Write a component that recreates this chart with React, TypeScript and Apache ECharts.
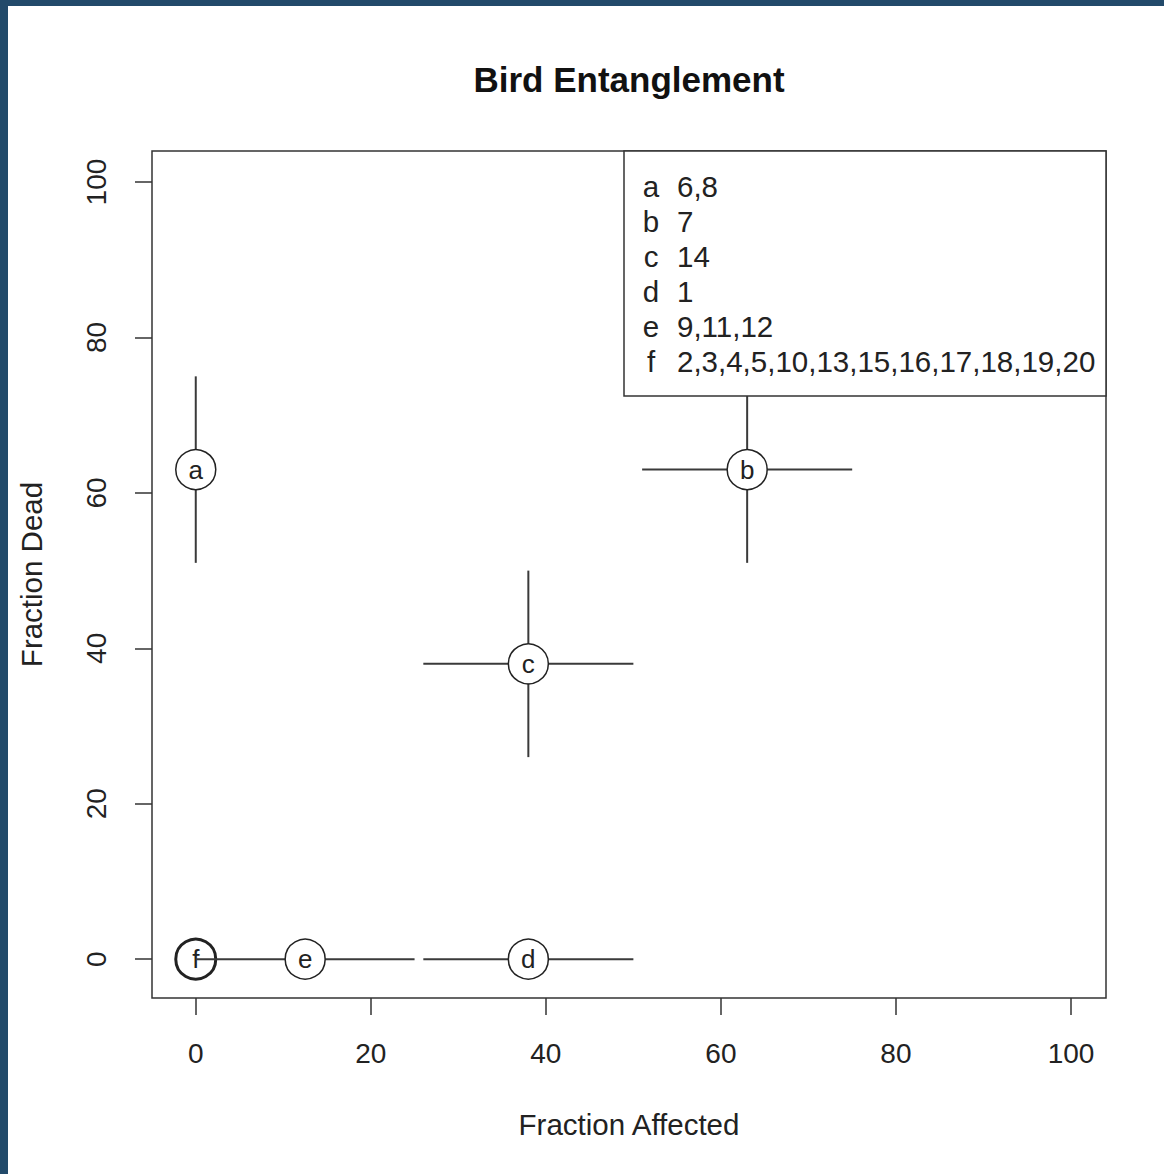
import React, { useEffect, useRef } from "react";
import * as echarts from "echarts";

// ---- data ----
const groupLabels = ["a", "b", "c", "d", "e", "f"];
const groupBirds = ["6,8", "7", "14", "1", "9,11,12", "2,3,4,5,10,13,15,16,17,18,19,20"];
const fracAffected = [0, 63, 38, 38, 12.5, 0];
const fracAffectedLow = [0, 51, 26, 26, 0, 0];
const fracAffectedHigh = [0, 75, 50, 50, 25, 0];
const fracDead = [63, 63, 38, 0, 0, 0];
const fracDeadLow = [51, 51, 26, 0, 0, 0];
const fracDeadHigh = [75, 75, 50, 0, 0, 0];
const tickValues = [0, 20, 40, 60, 80, 100];

const FONT = "Liberation Sans, Arial, Helvetica, sans-serif";

export default function App() {
  const ref = useRef<HTMLDivElement>(null);
  useEffect(() => {
    if (!ref.current) return;
    const chart = echarts.init(ref.current, undefined, { renderer: "svg" });

    // draw order: f first so later groups' bars overlay it
    const order = groupLabels.map((_, i) => i).reverse();
    const data = order.map((i) => [
      fracAffected[i],
      fracDead[i],
      fracAffectedLow[i],
      fracAffectedHigh[i],
      fracDeadLow[i],
      fracDeadHigh[i],
      i,
    ]);

    const legendX = 624;
    const legendY = 151;
    const legendW = 482;
    const legendH = 245;
    const rowStart = 186;
    const rowStep = 35;

    const legendEls: any[] = [
      {
        type: "rect",
        z: 100,
        shape: { x: legendX, y: legendY, width: legendW, height: legendH },
        style: { fill: "#ffffff", stroke: "#333333", lineWidth: 1.5 },
      },
    ];
    groupLabels.forEach((lab, i) => {
      legendEls.push({
        type: "text",
        z: 101,
        x: 651,
        y: rowStart + i * rowStep,
        style: {
          text: lab,
          font: `29.5px ${FONT}`,
          fill: "#222222",
          textAlign: "center",
          textVerticalAlign: "middle",
        },
      });
      legendEls.push({
        type: "text",
        z: 101,
        x: 677,
        y: rowStart + i * rowStep,
        style: {
          text: groupBirds[i],
          font: `29.5px ${FONT}`,
          fill: "#222222",
          textAlign: "left",
          textVerticalAlign: "middle",
        },
      });
    });

    const option: any = {
      animation: false,
      backgroundColor: "#ffffff",
      grid: {
        left: 152,
        top: 151,
        right: 58,
        bottom: 176,
        show: true,
        borderColor: "#333333",
        borderWidth: 1.5,
        backgroundColor: "transparent",
      },
      xAxis: {
        type: "value",
        min: -5,
        max: 104,
        name: "Fraction Affected",
        nameLocation: "middle",
        nameGap: 110,
        nameTextStyle: { fontFamily: FONT, fontSize: 29.5, color: "#222222", lineHeight: 32 },
        axisLine: { show: false, onZero: false },
        splitLine: { show: false },
        axisTick: {
          show: true,
          length: 17,
          customValues: tickValues,
          lineStyle: { color: "#333333", width: 1.5 },
        },
        axisLabel: {
          customValues: tickValues,
          margin: 39,
          fontFamily: FONT,
          fontSize: 28,
          lineHeight: 32,
          color: "#222222",
        },
      },
      yAxis: {
        type: "value",
        min: -5,
        max: 104,
        name: "Fraction Dead",
        nameLocation: "middle",
        nameGap: 105,
        nameTextStyle: { fontFamily: FONT, fontSize: 29.5, color: "#222222", lineHeight: 32 },
        axisLine: { show: false, onZero: false },
        splitLine: { show: false },
        axisTick: {
          show: true,
          length: 17,
          customValues: tickValues,
          lineStyle: { color: "#333333", width: 1.5 },
        },
        axisLabel: {
          customValues: tickValues,
          rotate: 90,
          margin: 40,
          fontFamily: FONT,
          fontSize: 28,
          lineHeight: 32,
          color: "#222222",
        },
      },
      graphic: [
        { type: "rect", shape: { x: 0, y: 0, width: 8, height: 1174 }, style: { fill: "#224a6a" }, z: 200 },
        { type: "rect", shape: { x: 0, y: 0, width: 1164, height: 6 }, style: { fill: "#224a6a" }, z: 200 },
        {
          type: "text",
          x: 629,
          y: 79,
          style: {
            text: "Bird Entanglement",
            font: `bold 35px ${FONT}`,
            fill: "#111111",
            textAlign: "center",
            textVerticalAlign: "middle",
          },
        },
        ...legendEls,
      ],
      series: [
        {
          type: "custom",
          data,
          clip: false,
          renderItem: (params: any, api: any) => {
            const x = api.value(0);
            const y = api.value(1);
            const xl = api.value(2);
            const xh = api.value(3);
            const yl = api.value(4);
            const yh = api.value(5);
            const idx = api.value(6);
            const c = api.coord([x, y]);
            const children: any[] = [];
            const lineStyle = { stroke: "#3a3a3a", lineWidth: 2 };
            if (xl !== xh) {
              const l = api.coord([xl, y]);
              const r = api.coord([xh, y]);
              children.push({ type: "line", shape: { x1: l[0], y1: l[1], x2: r[0], y2: r[1] }, style: lineStyle });
            }
            if (yl !== yh) {
              const b = api.coord([x, yl]);
              const t = api.coord([x, yh]);
              children.push({ type: "line", shape: { x1: b[0], y1: b[1], x2: t[0], y2: t[1] }, style: lineStyle });
            }
            const heavy = groupLabels[idx] === "f";
            children.push({
              type: "circle",
              shape: { cx: c[0], cy: c[1], r: 20 },
              style: { fill: "#ffffff", stroke: "#222222", lineWidth: heavy ? 3 : 1.5 },
            });
            children.push({
              type: "text",
              x: c[0],
              y: c[1],
              style: {
                text: groupLabels[idx],
                font: `26px ${FONT}`,
                fill: "#222222",
                textAlign: "center",
                textVerticalAlign: "middle",
              },
            });
            return { type: "group", children };
          },
        },
      ],
    };
    chart.setOption(option);
    return () => chart.dispose();
  }, []);
  return (
    <div
      ref={ref}
      style={{ position: "absolute", left: 0, top: 0, width: 1164, height: 1174 }}
    />
  );
}
